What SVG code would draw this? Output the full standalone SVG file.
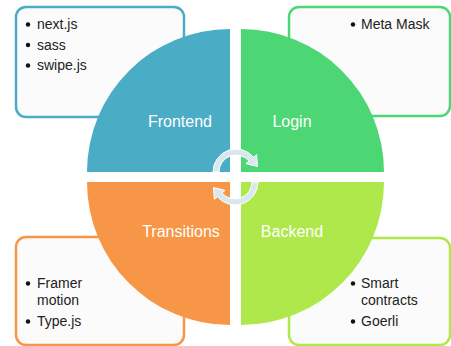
<svg xmlns="http://www.w3.org/2000/svg" width="451" height="346" viewBox="0 0 451 346">
<style>
.box{fill:#FBFBFB;stroke-width:2.5}
.item{font-family:"Liberation Sans",Arial,sans-serif;font-size:14px;fill:#222}
.lbl{font-family:"Liberation Sans",Arial,sans-serif;font-size:16px;fill:#FFFFFF;text-anchor:middle}
.bul{fill:#111}
.arr{fill:#D8E8EE;stroke:#FFFFFF;stroke-width:1}
</style>
<defs>
<path id="cyc" d="M213,172 A23,23 0 0,1 253.62,157.22 L256.68,154.64 L257.5,166.5 L245.96,163.64 L249.02,161.07 A17,17 0 0,0 219,172 Z"/>
</defs>
<rect width="451" height="346" fill="#FFFFFF"/>
<g id="box-frontend">
<rect class="box" x="16" y="7" width="168" height="110" rx="10" stroke="#4BACC6"/>
<circle class="bul" cx="28" cy="24.5" r="2.2"/><text class="item" x="37" y="29">next.js</text>
<circle class="bul" cx="28" cy="45" r="2.2"/><text class="item" x="37" y="49.5">sass</text>
<circle class="bul" cx="28" cy="65.5" r="2.2"/><text class="item" x="37" y="70">swipe.js</text>
</g>
<g id="box-login">
<rect class="box" x="289" y="7" width="161" height="109" rx="10" stroke="#4CD774"/>
<circle class="bul" cx="353" cy="24.5" r="2.2"/><text class="item" x="361" y="29">Meta Mask</text>
</g>
<g id="box-transitions">
<rect class="box" x="16" y="237" width="168" height="108" rx="10" stroke="#F79646"/>
<circle class="bul" cx="28" cy="283.5" r="2.2"/><text class="item" x="37" y="288">Framer</text>
<text class="item" x="37" y="305">motion</text>
<circle class="bul" cx="28" cy="321.5" r="2.2"/><text class="item" x="37" y="326">Type.js</text>
</g>
<g id="box-backend">
<rect class="box" x="289" y="238" width="161" height="107" rx="10" stroke="#AEE84A"/>
<circle class="bul" cx="353" cy="283.5" r="2.2"/><text class="item" x="361" y="288">Smart</text>
<text class="item" x="361" y="305">contracts</text>
<circle class="bul" cx="353" cy="321.5" r="2.2"/><text class="item" x="361" y="326">Goerli</text>
</g>
<g id="frontend">
<path d="M230,172 L87,172 A143,143 0 0,1 230,29 Z" fill="#4BACC6"/>
<text class="lbl" x="180" y="127">Frontend</text>
</g>
<g id="login">
<path d="M241,172 L241,29 A143,143 0 0,1 384,172 Z" fill="#4CD774"/>
<text class="lbl" x="292" y="127">Login</text>
</g>
<g id="transitions">
<path d="M230,182 L230,325 A143,143 0 0,1 87,182 Z" fill="#F79646"/>
<text class="lbl" x="181" y="237">Transitions</text>
</g>
<g id="backend">
<path d="M241,182 L384,182 A143,143 0 0,1 241,325 Z" fill="#AEE84A"/>
<text class="lbl" x="292" y="237">Backend</text>
</g>
<g id="connectors">
<use href="#cyc" class="arr"/>
<use href="#cyc" class="arr" transform="rotate(180 235.5 177)"/>
</g>
</svg>
